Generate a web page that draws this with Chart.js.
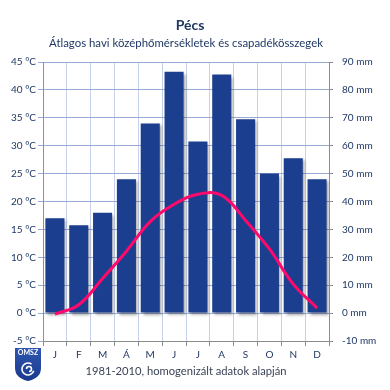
<!DOCTYPE html>
<html>
<head>
<meta charset="utf-8">
<script src="https://cdn.jsdelivr.net/npm/chart.js@4"></script>
<style>
  html, body { margin: 0; padding: 0; background: #fff; }
  #wrap { width: 390px; height: 390px; }
</style>
</head>
<body>
<div id="wrap"><canvas id="climChart"></canvas></div>
<script>
var months = ['J', 'F', 'M', 'Á', 'M', 'J', 'J', 'A', 'S', 'O', 'N', 'D'];
var precip = [34, 31.5, 36, 48, 68, 86.5, 61.5, 85.5, 69.5, 50, 55.5, 48];
var temps = [-0.2, 1.5, 6.2, 11.1, 16.4, 19.5, 21.3, 21.1, 16.6, 11.5, 5.2, 0.9];
var tempTicks = [-5, 45, 5];
var precipTicks = [-10, 90, 10];

var navy = '#1f3864';
var fontFam = 'Lato, "Liberation Sans", Arial, sans-serif';

// drop shadow for the bars
var barShadow = {
  id: 'barShadow',
  beforeDatasetDraw: function(chart, args) {
    if (args.index !== 0) return;
    var ctx = chart.ctx;
    ctx.save();
    ctx.shadowColor = 'rgba(0,0,0,0.35)';
    ctx.shadowBlur = 3;
    ctx.shadowOffsetX = 2;
    ctx.shadowOffsetY = 2;
  },
  afterDatasetDraw: function(chart, args) {
    if (args.index !== 0) return;
    chart.ctx.restore();
  }
};

// titles, footer note and the OMSZ badge
var texts = {
  id: 'texts',
  afterDraw: function(chart) {
    var ctx = chart.ctx;
    ctx.save();
    ctx.textAlign = 'center';
    ctx.textBaseline = 'middle';
    ctx.fillStyle = navy;
    ctx.font = 'bold 14px ' + fontFam;
    ctx.fillText('Pécs', 190, 25);
    ctx.font = '11.4px ' + fontFam;
    ctx.fillText('Átlagos havi középhőmérsékletek és csapadékösszegek', 186, 43);
    ctx.fillStyle = '#3a4256';
    ctx.font = '11.2px ' + fontFam;
    ctx.fillText('1981-2010, homogenizált adatok alapján', 186, 371);

    // badge
    var g = ctx.createLinearGradient(0, 348, 0, 381);
    g.addColorStop(0, '#2f56b0');
    g.addColorStop(1, '#1a3a8c');
    ctx.fillStyle = g;
    ctx.beginPath();
    ctx.moveTo(15, 348);
    ctx.lineTo(41, 348);
    ctx.lineTo(41, 368);
    ctx.quadraticCurveTo(41, 378, 28, 381);
    ctx.quadraticCurveTo(15, 378, 15, 368);
    ctx.closePath();
    ctx.fill();
    ctx.fillStyle = '#fff';
    ctx.font = 'bold 7px ' + fontFam;
    ctx.fillText('OMSZ', 28, 353);
    ctx.strokeStyle = '#fff';
    ctx.lineWidth = 1.6;
    ctx.beginPath();
    ctx.arc(28, 369, 6, 0.3, Math.PI * 1.7);
    ctx.stroke();
    ctx.beginPath();
    ctx.arc(29, 369, 2.5, Math.PI, Math.PI * 2.5);
    ctx.stroke();
    ctx.restore();
  }
};

var ctx = document.getElementById('climChart').getContext('2d');
var chart = new Chart(ctx, {
  type: 'bar',
  data: {
    labels: months,
    datasets: [{
      type: 'bar',
      data: precip,
      yAxisID: 'y1',
      backgroundColor: '#1c3e8e',
      barPercentage: 0.8,
      categoryPercentage: 1,
      order: 1
    }, {
      type: 'line',
      data: temps,
      yAxisID: 'y',
      borderColor: '#ff0a6c',
      borderWidth: 3,
      pointRadius: 0,
      tension: 0.4,
      fill: false,
      order: 0
    }]
  },
  options: {
    responsive: true,
    maintainAspectRatio: false,
    animation: false,
    layout: { padding: { top: 62, left: 0, right: 0, bottom: 0 } },
    plugins: {
      legend: { display: false },
      tooltip: { enabled: false }
    },
    scales: {
      x: {
        offset: true,
        afterFit: function(s) { s.height = 49; },
        grid: {
          offset: true,
          color: '#c4d0ec',
          tickColor: '#8c8c8c',
          tickLength: 5
        },
        border: { color: '#8c8c8c' },
        ticks: {
          color: navy,
          padding: 3,
          font: { size: 10, family: fontFam }
        }
      },
      y: {
        position: 'left',
        min: tempTicks[0],
        max: tempTicks[1],
        afterFit: function(s) { s.width = 43; },
        grid: { color: '#9aaad6', tickLength: 5 },
        border: { color: '#7d8fc4' },
        ticks: {
          stepSize: tempTicks[2],
          color: navy,
          padding: 2,
          font: { size: 10, family: fontFam },
          callback: function(v) { return v + ' °C'; }
        }
      },
      y1: {
        position: 'right',
        min: precipTicks[0],
        max: precipTicks[1],
        afterFit: function(s) { s.width = 61; },
        grid: { drawOnChartArea: false, color: '#8c8c8c', tickLength: 4 },
        border: { color: '#8c8c8c' },
        ticks: {
          stepSize: precipTicks[2],
          color: navy,
          padding: 9,
          font: { size: 10, family: fontFam },
          callback: function(v) { return v + ' mm'; }
        }
      }
    }
  },
  plugins: [barShadow, texts]
});
</script>
</body>
</html>
